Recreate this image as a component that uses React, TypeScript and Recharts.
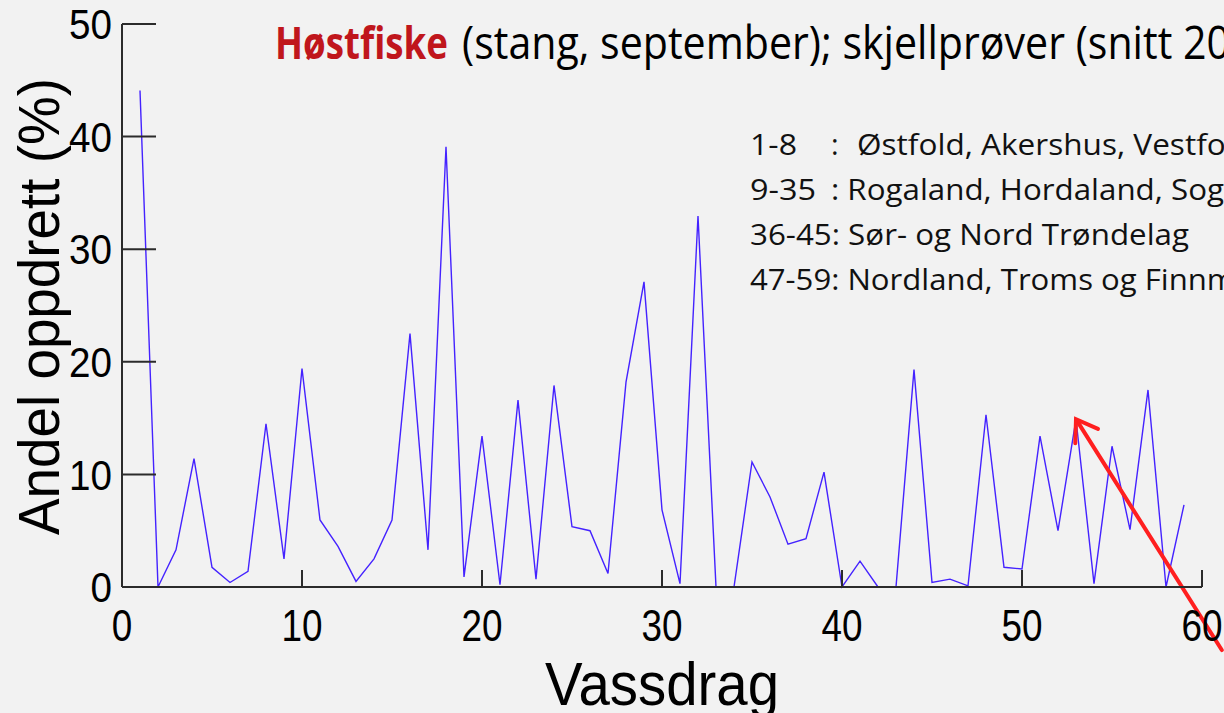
import { LineChart, Line, XAxis, YAxis, ReferenceLine } from "recharts";

// vassdrag (river) number and share of farmed fish, %
const vassdrag = [
  1, 2, 3, 4, 5, 6, 7, 8, 9, 10, 11, 12, 13, 14, 15, 16, 17, 18, 19, 20,
  21, 22, 23, 24, 25, 26, 27, 28, 29, 30, 31, 32, 33, 34, 35, 36, 37, 38, 39, 40,
  41, 42, 43, 44, 45, 46, 47, 48, 49, 50, 51, 52, 53, 54, 55, 56, 57, 58, 59,
];
const andelOppdrett = [
  44.1, 0, 3.3, 11.4, 1.75, 0.4, 1.4, 14.5, 2.5, 19.4, 5.95, 3.6, 0.5, 2.5, 5.95, 22.5, 3.3, 39.1, 0.9, 13.4,
  0.2, 16.6, 0.7, 17.9, 5.35, 5.0, 1.2, 18.2, 27.1, 6.85, 0.3, 32.95, 0, 0, 11.1, 8.0, 3.8, 4.3, 10.2, 0,
  2.3, 0, 0, 19.3, 0.4, 0.7, 0.1, 15.3, 1.75, 1.6, 13.4, 5.0, 14.9, 0.3, 12.5, 5.1, 17.5, 0, 7.3,
];

const xTicks = [0, 10, 20, 30, 40, 50, 60];
const yTicks = [0, 10, 20, 30, 40, 50];

// red annotation arrow: tip on river 53, tail runs off the bottom right
const arrowTip = { x: 53, y: 14.9 };
const arrowTail = { x: 61.1, y: -5.6 };

const titleRed = "Høstfiske";
const titleRest = "(stang, september); skjellprøver (snitt 20";

const data = vassdrag.map((v, i) => ({ vassdrag: v, andel: andelOppdrett[i] }));

const AXIS = "#2b2b2b";
const SANS = "'Liberation Sans', Arial, sans-serif";
const CAL = "'Open Sans', 'Noto Sans', sans-serif";

const XTick = (props: any) => {
  const { x, y, payload } = props;
  const s = String(payload.value);
  return (
    <text x={x} y={y} dy="0.72em" textAnchor="middle" fontFamily={SANS} fontSize={45}
      fill="#000" textLength={s.length * 20.5} lengthAdjust="spacingAndGlyphs">
      {s}
    </text>
  );
};

const YTick = (props: any) => {
  const { x, y, payload } = props;
  const s = String(payload.value);
  return (
    <text x={x} y={y} dy="0.36em" textAnchor="end" fontFamily={SANS} fontSize={42}
      fill="#000" textLength={s.length * 21.5} lengthAdjust="spacingAndGlyphs">
      {s}
    </text>
  );
};

const XLabel = (props: any) => {
  const vb = props.viewBox;
  return (
    <text x={vb.x + vb.width / 2} y={vb.y + 118} textAnchor="middle" fontFamily={SANS}
      fontSize={62} fill="#000" textLength={234} lengthAdjust="spacingAndGlyphs">
      Vassdrag
    </text>
  );
};

const YLabel = (props: any) => {
  const vb = props.viewBox;
  const cx = vb.x + 59;
  const cy = vb.y + vb.height / 2 + 1;
  return (
    <text x={cx} y={cy} transform={`rotate(-90, ${cx}, ${cy})`} textAnchor="middle"
      fontFamily={SANS} fontSize={57} fill="#000" textLength={457} lengthAdjust="spacingAndGlyphs">
      Andel oppdrett (%)
    </text>
  );
};

const Arrow = (props: any) => {
  const { x1, y1, x2, y2 } = props;
  const dx = x2 - x1;
  const dy = y2 - y1;
  const len = Math.sqrt(dx * dx + dy * dy) || 1;
  const ux = dx / len;
  const uy = dy / len;
  const head = 24;
  const a = (34 * Math.PI) / 180;
  const rot = (s: number) => ({
    x: x1 + head * (ux * Math.cos(s * a) - uy * Math.sin(s * a)),
    y: y1 + head * (ux * Math.sin(s * a) + uy * Math.cos(s * a)),
  });
  const p = rot(1);
  const q = rot(-1);
  return (
    <g stroke="#ff1f1f" strokeWidth={4} fill="none" strokeLinecap="round">
      <line x1={x1 + ux * 2} y1={y1 + uy * 2} x2={x2} y2={y2} />
      <polyline points={`${p.x},${p.y} ${x1},${y1} ${q.x},${q.y}`} strokeLinejoin="miter" />
    </g>
  );
};

export default function App() {
  return (
    <div style={{ position: "relative", width: 1224, height: 713, overflow: "hidden", background: "#f2f2f2" }}>
      <style>{`body{margin:0;background:#f2f2f2;overflow:hidden}`}</style>
      <LineChart width={1224} height={713} data={data}
        margin={{ top: 24, right: 22, bottom: 66, left: 0 }}>
        <XAxis dataKey="vassdrag" type="number" domain={[0, 60]} ticks={xTicks} interval={0}
          height={60} tickSize={-17} tickMargin={39}
          axisLine={{ stroke: AXIS, strokeWidth: 2 }} tickLine={{ stroke: AXIS, strokeWidth: 2 }}
          tick={<XTick />} label={XLabel} />
        <YAxis type="number" domain={[0, 50]} ticks={yTicks} interval={0} width={122}
          tickSize={-34} tickMargin={44}
          axisLine={{ stroke: AXIS, strokeWidth: 2 }} tickLine={{ stroke: AXIS, strokeWidth: 2 }}
          tick={<YTick />} label={YLabel} />
        <Line type="linear" dataKey="andel" stroke="#4422ff" strokeWidth={1.4} dot={false}
          activeDot={false} isAnimationActive={false} />
        <ReferenceLine segment={[arrowTip, arrowTail]} ifOverflow="visible" shape={<Arrow />} />
      </LineChart>
      <svg width={1224} height={713} style={{ position: "absolute", left: 0, top: 0, pointerEvents: "none" }}>
        <text x={275} y={59} fontFamily={CAL} fontSize={45} fontWeight={700} fill="#c0161c"
          textLength={173} lengthAdjust="spacingAndGlyphs">{titleRed}</text>
        <text x={462} y={59} fontFamily={CAL} fontSize={45} fill="#000"
          textLength={768} lengthAdjust="spacingAndGlyphs">{titleRest}</text>
        <g fontFamily={CAL} fontSize={29} fill="#111">
          <text x={750} y={155} textLength={47} lengthAdjust="spacingAndGlyphs">1-8</text>
          <text x={831} y={155}>:</text>
          <text x={857} y={155} textLength={396} lengthAdjust="spacingAndGlyphs">Østfold, Akershus, Vestfold</text>
          <text x={750} y={200} textLength={66} lengthAdjust="spacingAndGlyphs">9-35</text>
          <text x={831} y={200} textLength={393} lengthAdjust="spacingAndGlyphs">: Rogaland, Hordaland, Sog</text>
          <text x={750} y={245} textLength={439} lengthAdjust="spacingAndGlyphs">36-45: Sør- og Nord Trøndelag</text>
          <text x={750} y={290} textLength={532} lengthAdjust="spacingAndGlyphs">47-59: Nordland, Troms og Finnmark</text>
        </g>
      </svg>
    </div>
  );
}
